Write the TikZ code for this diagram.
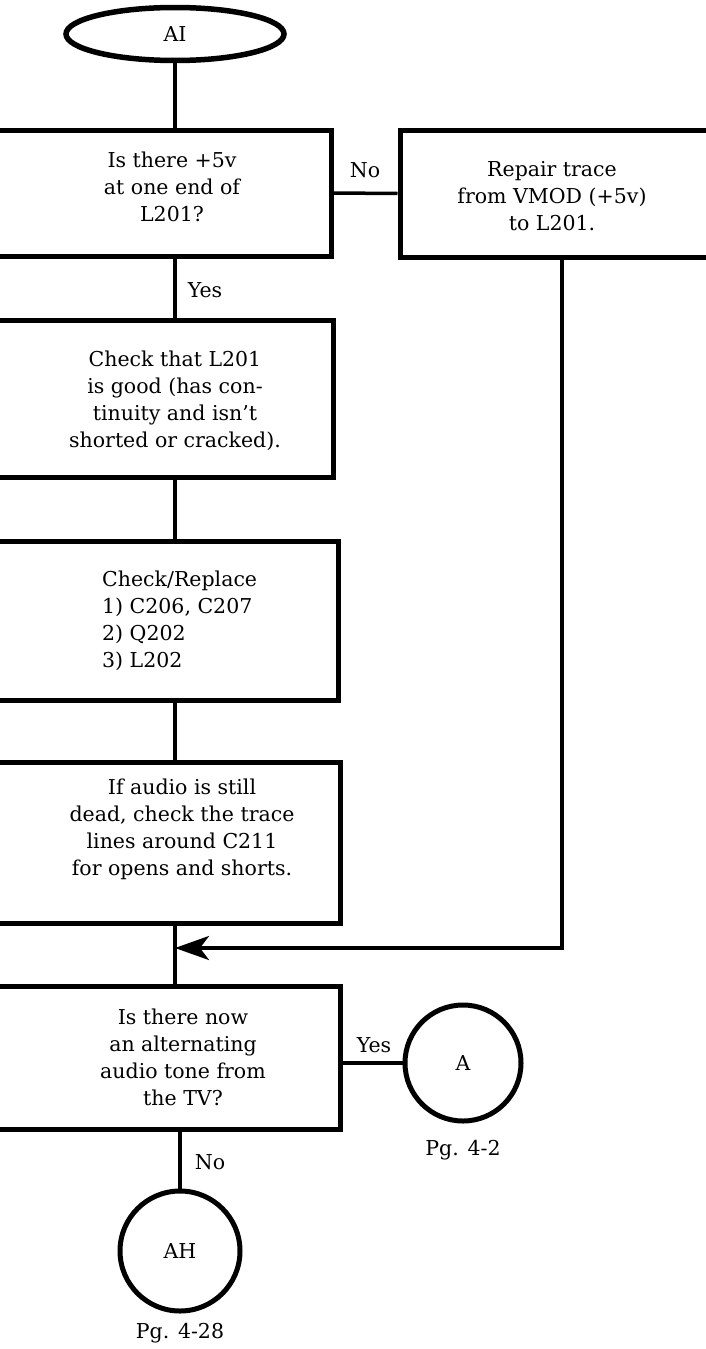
\documentclass[tikz,border=0pt]{standalone}
\usepackage{fontspec}
\setmainfont{DejaVu Serif}
\usetikzlibrary{arrows.meta,shapes.geometric}
\begin{document}
\begin{tikzpicture}[x=1pt,y=-1pt,
  box/.style={draw,line width=5pt,rectangle,inner sep=0pt},
  txt/.style={font=\fontsize{20.5}{27}\selectfont,align=center,inner sep=0pt},
  lab/.style={font=\fontsize{20.5}{27}\selectfont,inner sep=0pt},
  conn/.style={line width=3.5pt},
  term/.style={draw,line width=5pt,circle,inner sep=0pt,minimum size=116pt,font=\fontsize{20.5}{27}\selectfont}]
\useasboundingbox (0,0) rectangle (706,1349);
\clip (0,0) rectangle (706,1349);
% terminal
\node[draw,line width=5.5pt,ellipse,minimum width=218pt,minimum height=53pt,inner sep=0pt,font=\fontsize{20.5}{27}\selectfont] (ai) at (175,34) {AI};
\coordinate (col) at (175,34);
% boxes (left side runs off the page)
\node[box,minimum width=341pt,minimum height=126pt] (b1) at (160.5,193) {};
\node[txt] (t1) at (172,187) {Is there +5v\\at one end of\\L201?};
\node[box,minimum width=324pt,minimum height=127pt] (rb) at (562,193.5) {};
\node[txt] (trb) at (552,196) {Repair trace\\from VMOD (+5v)\\to L201.};
\node[box,minimum width=343pt,minimum height=157pt] (b2) at (161.5,398.5) {};
\node[txt] (t2) at (175,401) {Check that L201\\is good (has con-\\tinuity and isn't\\shorted or cracked).};
\node[box,minimum width=348pt,minimum height=159pt] (b3) at (164,620.5) {};
\node[txt,align=left,anchor=west] (t3) at (102,621) {Check/Replace\\1) C206, C207\\2) Q202\\3) L202};
\node[box,minimum width=350pt,minimum height=161pt] (b4) at (165,842.5) {};
\node[txt] (t4) at (182,829) {If audio is still\\dead, check the trace\\lines around C211\\for opens and shorts.};
\node[box,minimum width=350pt,minimum height=143pt] (b5) at (165,1057.5) {};
\node[txt] (t5) at (183,1057) {Is there now\\an alternating\\audio tone from\\the TV?};
\node[term] (ca) at (463,1063) {A};
\node[term,minimum size=120pt] (ah) at (180,1251) {AH};
\coordinate (j) at (175,948);
% connectors
\draw[conn] (ai.south) -- (col |- b1.north);
\draw[conn] (b1.east) -- (rb.west);
\draw[conn] (col |- b1.south) -- (col |- b2.north);
\draw[conn] (col |- b2.south) -- (col |- b3.north);
\draw[conn] (col |- b3.south) -- (col |- b4.north);
\draw[conn] (col |- b4.south) -- (col |- b5.north);
\draw[conn,-{Stealth[length=34pt,width=24pt,inset=9pt]}] (rb.south) -- (rb.south |- j) -- (j);
\draw[conn] (b5.east |- ca) -- (ca.west);
\draw[conn] (ah.north |- b5.south) -- (ah.north);
% labels
\node[lab] (lno1) at (365,170) {No};
\node[lab] (lyes1) at (205,290) {Yes};
\node[lab] (lyes2) at (374,1045) {Yes};
\node[lab] (lno2) at (210,1162) {No};
\node[lab] (pa) at (463,1150) {Pg. 4-2};
\node[lab] (pah) at (180,1333) {Pg. 4-28};
\end{tikzpicture}
\end{document}
